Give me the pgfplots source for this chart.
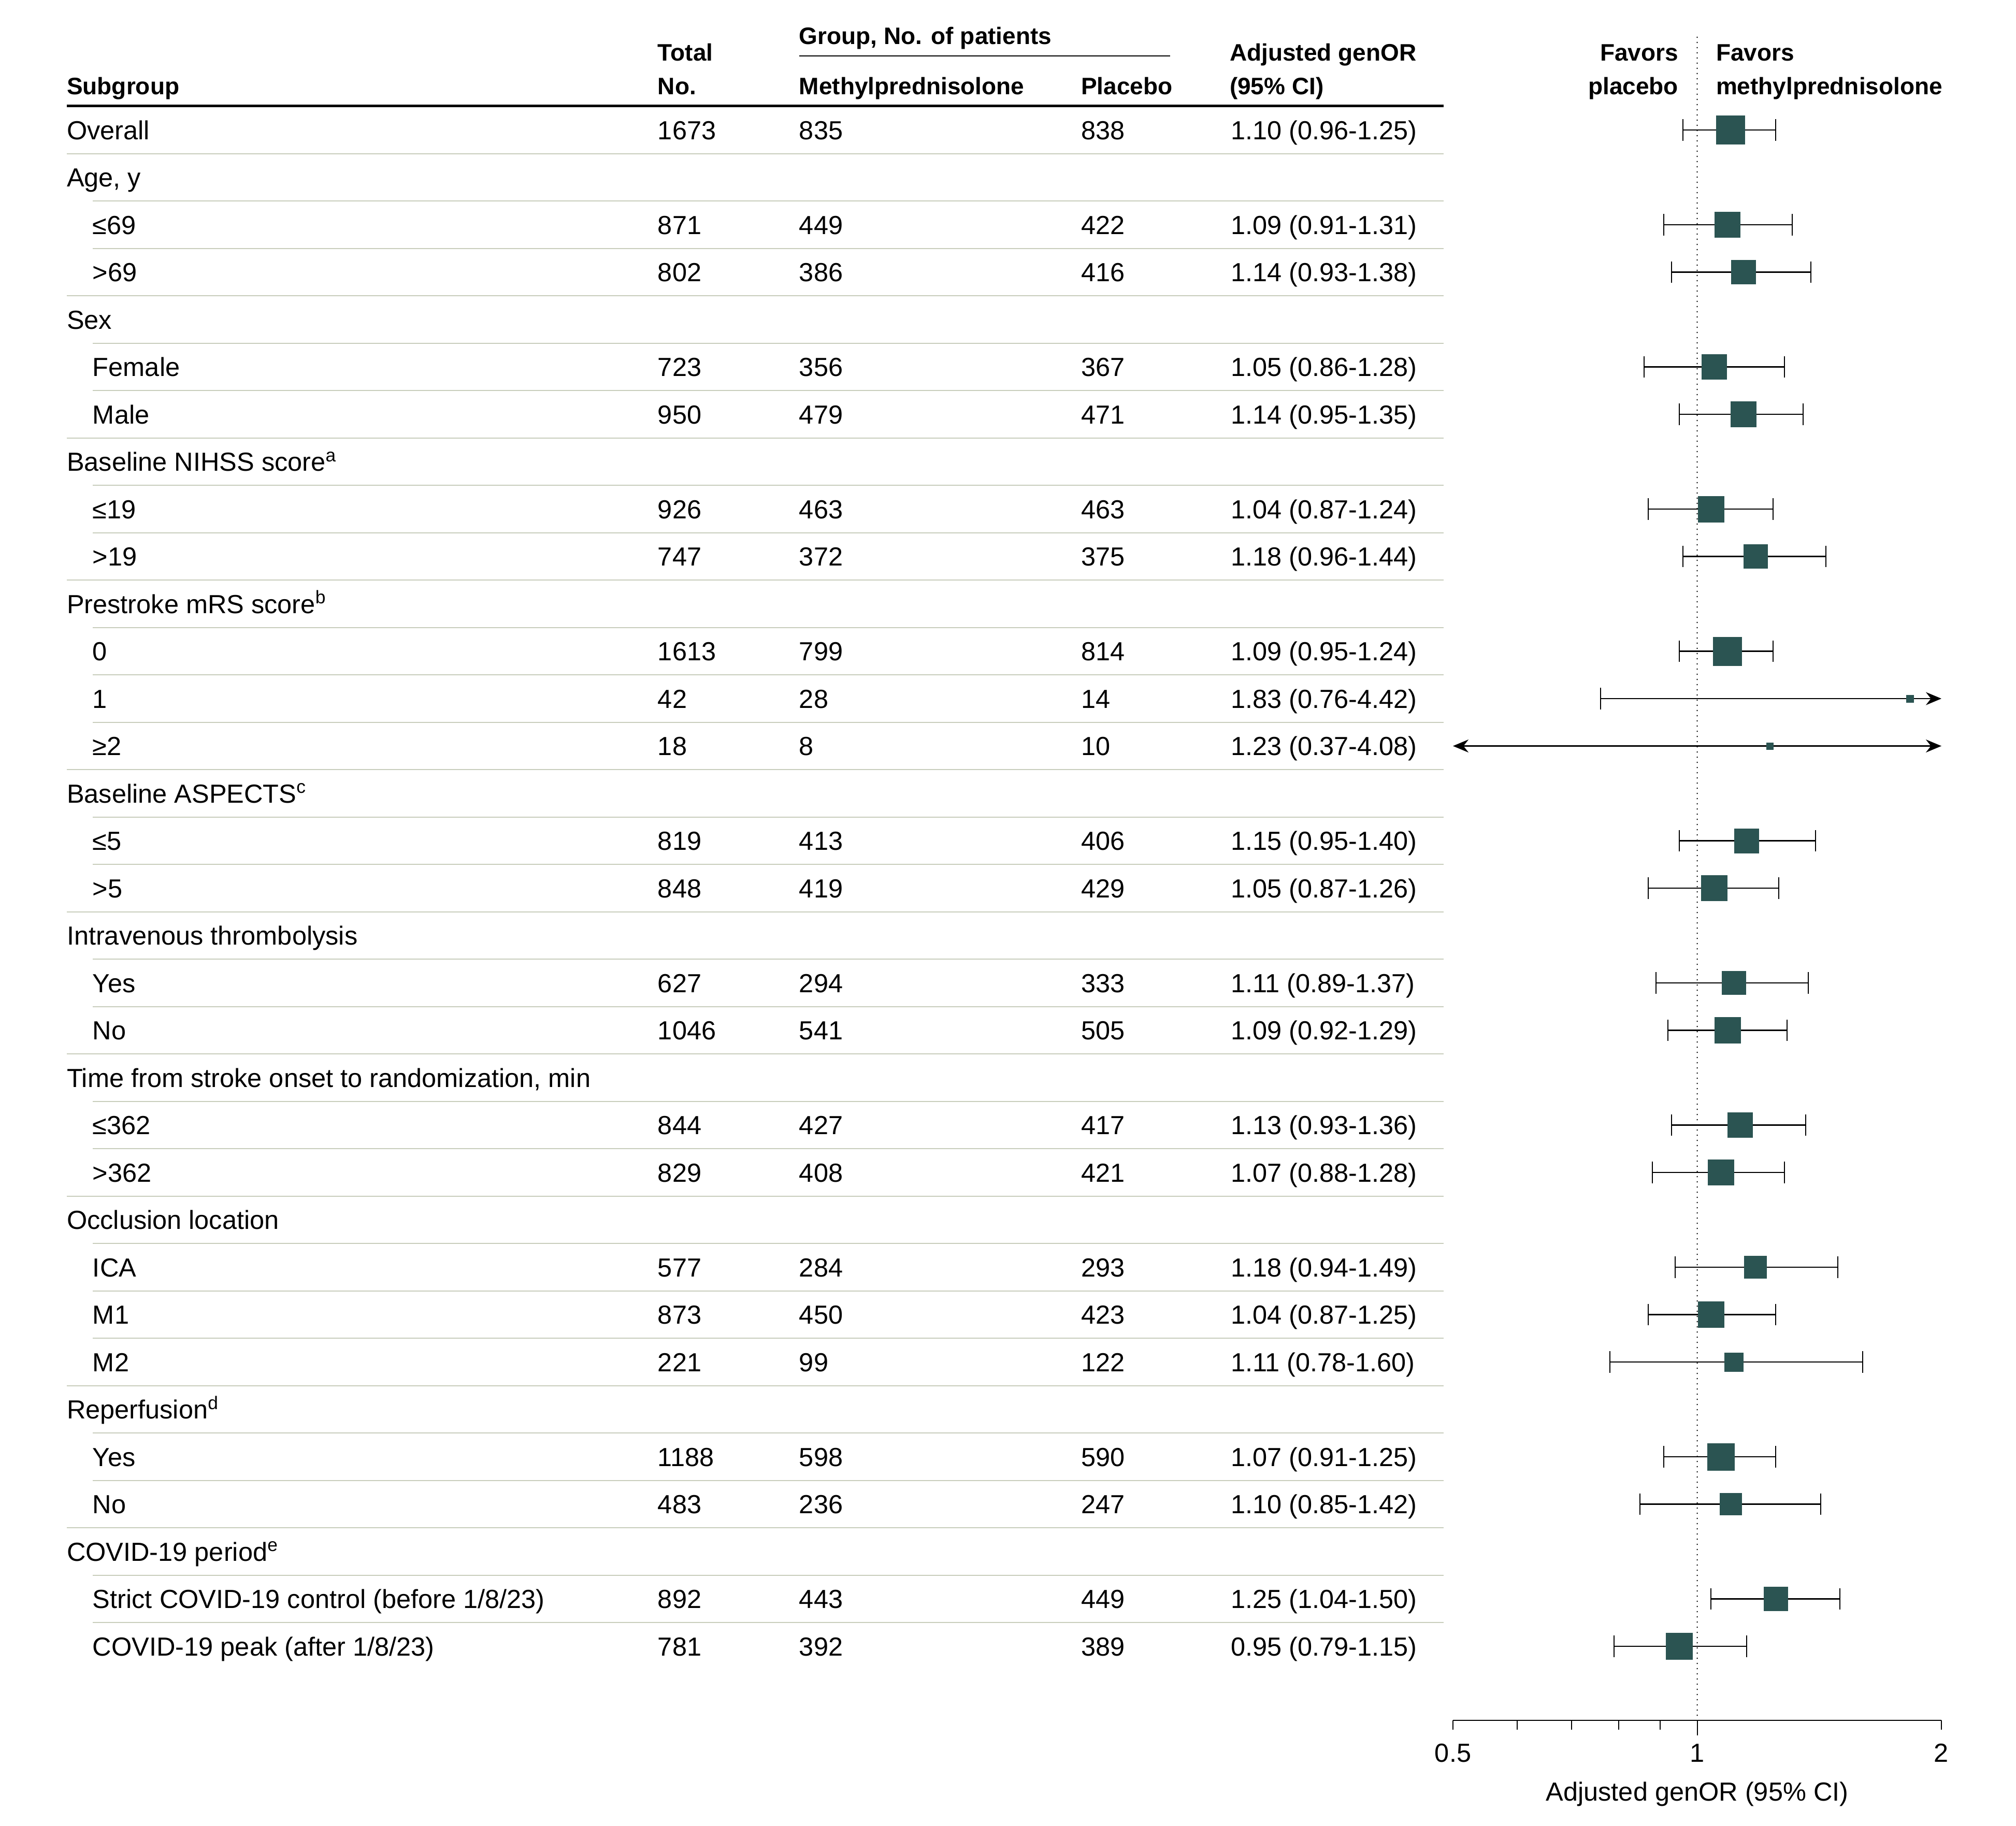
\documentclass[border=0pt]{standalone}
\usepackage{fontspec}
\setmainfont{Liberation Sans}
\usepackage{pgfplots}
\pgfplotsset{compat=1.18}
\usetikzlibrary{arrows.meta}
\definecolor{boxc}{RGB}{43,84,82}
\definecolor{sepc}{RGB}{200,205,188}

\newcommand\rowy[1]{269+(#1-1)*91.5}
\newcommand\hdr[2]{\node[anchor=base west] at (129,{\rowy{#1}}) {#2};}
\newcommand\itm[7]{%
  \node[anchor=base west] at (#2,{\rowy{#1}}) {#3};
  \node[anchor=base west] at (1270,{\rowy{#1}}) {#4};
  \node[anchor=base west] at (1543,{\rowy{#1}}) {#5};
  \node[anchor=base west] at (2087,{\rowy{#1}}) {#6};
  \node[anchor=base west] at (2376,{\rowy{#1}}) {#7};}
\newcommand\fr[5]{%
  \addplot[ci] coordinates {(#3,-#1) (#4,-#1)};
  \addplot[box, mark size=#5pt] coordinates {(#2,-#1)};}

\begin{document}
\begin{tikzpicture}
\useasboundingbox (0,0) rectangle (778.4pt,-705pt);
\begin{scope}[x=0.2pt,y=-0.2pt,
  every node/.style={inner sep=0pt, outer sep=0pt, font=\fontsize{10.1}{12}\selectfont},
  hb/.style={font=\bfseries\fontsize{9.2}{11}\selectfont}]
 % header
 \node[hb, anchor=base west] at (129,182) {Subgroup};
 \node[hb, anchor=base west] at (1270,117) {Total};
 \node[hb, anchor=base west] at (1270,182) {No.};
 \node[hb, anchor=base west] at (1543,85) {Group, No. of patients};
 \node[hb, anchor=base west] at (1543,182) {Methylprednisolone};
 \node[hb, anchor=base west] at (2087,182) {Placebo};
 \node[hb, anchor=base west] at (2374,117) {Adjusted genOR};
 \node[hb, anchor=base west] at (2374,182) {(95\% CI)};
 \node[hb, anchor=base east] at (3240,117) {Favors};
 \node[hb, anchor=base east] at (3240,182) {placebo};
 \node[hb, anchor=base west] at (3313,117) {Favors};
 \node[hb, anchor=base west] at (3313,182) {methylprednisolone};
 \draw[line width=0.4pt] (1543,108) -- (2259,108);
 \draw[line width=1pt] (129,204) -- (2787,204);
 % separators
 \foreach \r/\xs in {1/129,2/179,3/179,4/129,5/179,6/179,7/129,8/179,9/179,10/129,
   11/179,12/179,13/179,14/129,15/179,16/179,17/129,18/179,19/179,20/129,21/179,
   22/179,23/129,24/179,25/179,26/179,27/129,28/179,29/179,30/129,31/179,32/179}
   \draw[sepc, line width=0.4pt] (\xs,{251+(\r-1)*91.5+45.75}) -- (2787,{251+(\r-1)*91.5+45.75});
 % rows
 \itm{1}{129}{Overall}{1673}{835}{838}{1.10 (0.96-1.25)}
 \hdr{2}{Age, y}
 \itm{3}{179}{≤69}{871}{449}{422}{1.09 (0.91-1.31)}
 \itm{4}{179}{>69}{802}{386}{416}{1.14 (0.93-1.38)}
 \hdr{5}{Sex}
 \itm{6}{179}{Female}{723}{356}{367}{1.05 (0.86-1.28)}
 \itm{7}{179}{Male}{950}{479}{471}{1.14 (0.95-1.35)}
 \hdr{8}{Baseline NIHSS score\textsuperscript{a}}
 \itm{9}{179}{≤19}{926}{463}{463}{1.04 (0.87-1.24)}
 \itm{10}{179}{>19}{747}{372}{375}{1.18 (0.96-1.44)}
 \hdr{11}{Prestroke mRS score\textsuperscript{b}}
 \itm{12}{179}{0}{1613}{799}{814}{1.09 (0.95-1.24)}
 \itm{13}{179}{1}{42}{28}{14}{1.83 (0.76-4.42)}
 \itm{14}{179}{≥2}{18}{8}{10}{1.23 (0.37-4.08)}
 \hdr{15}{Baseline ASPECTS\textsuperscript{c}}
 \itm{16}{179}{≤5}{819}{413}{406}{1.15 (0.95-1.40)}
 \itm{17}{179}{>5}{848}{419}{429}{1.05 (0.87-1.26)}
 \hdr{18}{Intravenous thrombolysis}
 \itm{19}{179}{Yes}{627}{294}{333}{1.11 (0.89-1.37)}
 \itm{20}{179}{No}{1046}{541}{505}{1.09 (0.92-1.29)}
 \hdr{21}{Time from stroke onset to randomization, min}
 \itm{22}{179}{≤362}{844}{427}{417}{1.13 (0.93-1.36)}
 \itm{23}{179}{>362}{829}{408}{421}{1.07 (0.88-1.28)}
 \hdr{24}{Occlusion location}
 \itm{25}{179}{ICA}{577}{284}{293}{1.18 (0.94-1.49)}
 \itm{26}{179}{M1}{873}{450}{423}{1.04 (0.87-1.25)}
 \itm{27}{179}{M2}{221}{99}{122}{1.11 (0.78-1.60)}
 \hdr{28}{Reperfusion\textsuperscript{d}}
 \itm{29}{179}{Yes}{1188}{598}{590}{1.07 (0.91-1.25)}
 \itm{30}{179}{No}{483}{236}{247}{1.10 (0.85-1.42)}
 \hdr{31}{COVID-19 period\textsuperscript{e}}
 \itm{32}{179}{Strict COVID-19 control (before 1/8/23)}{892}{443}{449}{1.25 (1.04-1.50)}
 \itm{33}{179}{COVID-19 peak (after 1/8/23)}{781}{392}{389}{0.95 (0.79-1.15)}
\end{scope}

\begin{axis}[
  at={(561pt,-664.4pt)}, anchor=south west,
  scale only axis, width=188.6pt, height=650pt,
  xmode=log, xmin=0.5, xmax=2,
  ymin=-34.563, ymax=0.956,
  axis x line=bottom, axis y line=none,
  axis line style={-, line width=0.5pt, black},
  clip=false,
  xtick={0.5,2}, xticklabels={0.5,2},
  extra x ticks={1}, extra x tick labels={\raisebox{2.2pt}{1}},
  extra x tick style={major tick length=5.8pt},
  minor xtick={0.6,0.7,0.8,0.9},
  major tick length=3.6pt, minor tick length=3.6pt,
  tick align=outside,
  tick style={black, line width=0.4pt},
  xticklabel style={anchor=base, inner sep=0pt, yshift=-12.4pt, font=\fontsize{10.1}{12}\selectfont},
  xlabel={Adjusted genOR (95\% CI)},
  xlabel style={at={(axis description cs:0.5,0)}, anchor=base, inner sep=0pt, yshift=-31pt, font=\fontsize{10.1}{12}\selectfont},
  ci/.style={black, line width=0.45pt, mark=|, mark size=4.17pt, mark options={line width=0.4pt, solid}},
  box/.style={only marks, mark=square*, mark options={fill=boxc, draw=boxc, line width=0.2pt}},
]
\addplot[black, line width=0.55pt, dash pattern=on 0pt off 2pt, line cap=round] coordinates {(1,0.956) (1,-34.563)};
\fr{1}{1.10}{0.96}{1.25}{5.5}
\fr{3}{1.09}{0.91}{1.31}{4.87}
\fr{4}{1.14}{0.93}{1.38}{4.67}
\fr{6}{1.05}{0.86}{1.28}{4.8}
\fr{7}{1.14}{0.95}{1.35}{4.9}
\fr{9}{1.04}{0.87}{1.24}{5.0}
\fr{10}{1.18}{0.96}{1.44}{4.57}
\fr{12}{1.09}{0.95}{1.24}{5.5}
\addplot[black, line width=0.5pt, -{Stealth[length=6pt,width=5pt]}, mark=|, mark indices={1}, mark size=4.17pt, mark options={line width=0.4pt, solid, -}] coordinates {(0.76,-13) (2,-13)};
\addplot[box, mark size=1.4pt] coordinates {(1.83,-13)};
\addplot[black, line width=0.5pt, {Stealth[length=6pt,width=5pt]}-{Stealth[length=6pt,width=5pt]}] coordinates {(0.5,-14) (2,-14)};
\addplot[box, mark size=1.3pt] coordinates {(1.23,-14)};
\fr{16}{1.15}{0.95}{1.40}{4.7}
\fr{17}{1.05}{0.87}{1.26}{4.97}
\fr{19}{1.11}{0.89}{1.37}{4.53}
\fr{20}{1.09}{0.92}{1.29}{5.03}
\fr{22}{1.13}{0.93}{1.36}{4.8}
\fr{23}{1.07}{0.88}{1.28}{4.93}
\fr{25}{1.18}{0.94}{1.49}{4.3}
\fr{26}{1.04}{0.87}{1.25}{5.03}
\fr{27}{1.11}{0.78}{1.60}{3.6}
\fr{29}{1.07}{0.91}{1.25}{5.2}
\fr{30}{1.10}{0.85}{1.42}{4.23}
\fr{32}{1.25}{1.04}{1.50}{4.67}
\fr{33}{0.95}{0.79}{1.15}{5.1}
\end{axis}
\end{tikzpicture}
\end{document}
